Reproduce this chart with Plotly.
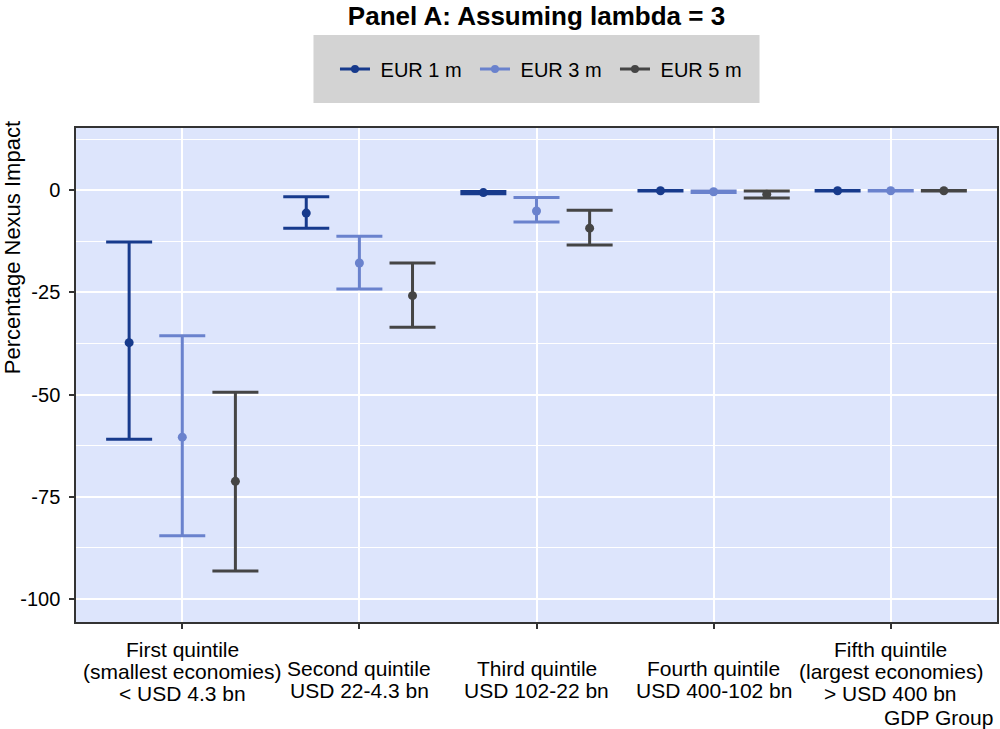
import plotly.graph_objects as go

# ---- data ----
categories = [
    "First quintile<br>(smallest economies)<br>&lt; USD 4.3 bn",
    "Second quintile<br>USD 22-4.3 bn",
    "Third quintile<br>USD 102-22 bn",
    "Fourth quintile<br>USD 400-102 bn",
    "Fifth quintile<br>(largest economies)<br>&gt; USD 400 bn",
]
series_names = ["EUR 1 m", "EUR 3 m", "EUR 5 m"]

eur1_mid = [-37.3, -5.6, -0.6, -0.15, -0.15]
eur1_lo = [-60.9, -9.3, -0.9, -0.2, -0.2]
eur1_hi = [-12.7, -1.6, -0.3, -0.1, -0.1]

eur3_mid = [-60.4, -17.8, -5.1, -0.4, -0.15]
eur3_lo = [-84.5, -24.2, -7.8, -0.6, -0.2]
eur3_hi = [-35.6, -11.3, -1.8, -0.2, -0.1]

eur5_mid = [-71.2, -25.8, -9.3, -1.0, -0.15]
eur5_lo = [-93.1, -33.5, -13.4, -1.9, -0.2]
eur5_hi = [-49.4, -17.8, -4.9, -0.2, -0.1]

y_tickvals = [-100, -75, -50, -25, 0]
y_ticktext = ["-100", "-75", "-50", "-25", "0"]
y_minorvals = [-87.5, -62.5, -37.5, -12.5, 12.5]

# ---- style ----
colors = ["#173a8c", "#6a82cd", "#454545"]
FONT = "Liberation Sans, Arial, sans-serif"
dodge = 0.3

fig = go.Figure()
all_series = [
    (eur1_mid, eur1_lo, eur1_hi),
    (eur3_mid, eur3_lo, eur3_hi),
    (eur5_mid, eur5_lo, eur5_hi),
]
for k, (mid, lo, hi) in enumerate(all_series):
    c = colors[k]
    xs = [i + (k - 1) * dodge for i in range(len(categories))]
    fig.add_trace(go.Scatter(
        x=xs, y=mid, mode="markers",
        marker=dict(size=9, color=c),
        error_y=dict(type="data", symmetric=False,
                     array=[h - m for h, m in zip(hi, mid)],
                     arrayminus=[m - l for m, l in zip(mid, lo)],
                     color=c, thickness=3, width=23),
        showlegend=False, hoverinfo="y",
    ))
for k, name in enumerate(series_names):
    c = colors[k]
    fig.add_trace(go.Scatter(
        x=[None], y=[None], mode="lines+markers", name="\u00a0" + name,
        line=dict(color=c, width=3), marker=dict(size=8, color=c),
    ))

L, R, T, B = 76, 1, 128, 107
W, H = 1000, 729
pw, ph = W - L - R, H - T - B

def px2paper_x(px):
    return (px - L) / pw

def px2paper_y(py):
    return (H - B - py) / ph

fig.add_shape(type="rect", xref="paper", yref="paper",
              x0=px2paper_x(314), x1=px2paper_x(761),
              y0=px2paper_y(103), y1=px2paper_y(35),
              fillcolor="#d3d3d3", line=dict(width=0), layer="below")

# category labels, one annotation per line (tight line spacing as in reference)
for i, lab in enumerate(categories):
    lines = lab.split("<br>")
    ys = [649, 671, 693] if len(lines) == 3 else [668, 690]
    for line, yp in zip(lines, ys):
        fig.add_annotation(text=line, x=i, xref="x", yref="paper",
                           y=px2paper_y(yp), xanchor="center", yanchor="middle",
                           showarrow=False,
                           font=dict(size=21, color="black", family=FONT))

fig.add_annotation(text="Percentage Nexus Impact", textangle=-90,
                   xref="paper", yref="paper",
                   x=px2paper_x(12), y=px2paper_y(248),
                   xanchor="center", yanchor="middle", showarrow=False,
                   font=dict(size=22, color="black", family=FONT))
fig.add_annotation(text="GDP Group", xref="paper", yref="paper",
                   x=px2paper_x(997), y=px2paper_y(717),
                   xanchor="right", yanchor="middle", showarrow=False,
                   font=dict(size=21, color="black", family=FONT))

axis_common = dict(
    showgrid=True, gridcolor="white", gridwidth=1.5,
    ticks="outside", ticklen=5, tickwidth=1.5, tickcolor="#333333",
    showline=True, linecolor="#333333", linewidth=1.5, mirror=True,
    zeroline=False, tickfont=dict(size=20, color="black", family=FONT),
)

fig.update_layout(
    width=W, height=H,
    margin=dict(l=L, r=R, t=T, b=B, pad=0),
    paper_bgcolor="white", plot_bgcolor="#dde5fc",
    font=dict(family=FONT, color="black", size=20),
    title=dict(text="<b>Panel A: Assuming lambda = 3</b>",
               x=px2paper_x(537.5), xref="paper", xanchor="center",
               y=1 - 16 / H, yref="container", yanchor="middle",
               pad=dict(t=0, b=0),
               font=dict(size=26, color="black", family=FONT)),
    xaxis=dict(range=[-0.6, 4.6], tickvals=list(range(len(categories))),
               showticklabels=False, **axis_common),
    yaxis=dict(range=[-105.6, 15.2], tickvals=y_tickvals, ticktext=y_ticktext,
               ticklabelstandoff=5,
               minor=dict(tickvals=y_minorvals, showgrid=True,
                          gridcolor="white", gridwidth=1.2, ticks=""),
               **axis_common),
    legend=dict(orientation="h", xref="paper", yref="paper",
                x=px2paper_x(546), y=px2paper_y(69),
                xanchor="center", yanchor="middle",
                bgcolor="rgba(0,0,0,0)", itemwidth=30,
                entrywidth=95, entrywidthmode="pixels",
                font=dict(size=20, color="black", family=FONT)),
    showlegend=True,
)

fig.write_html("out.html", config={"displayModeBar": False},
               post_script="document.body.style.margin='0';"
                           "document.body.style.overflow='hidden';")
